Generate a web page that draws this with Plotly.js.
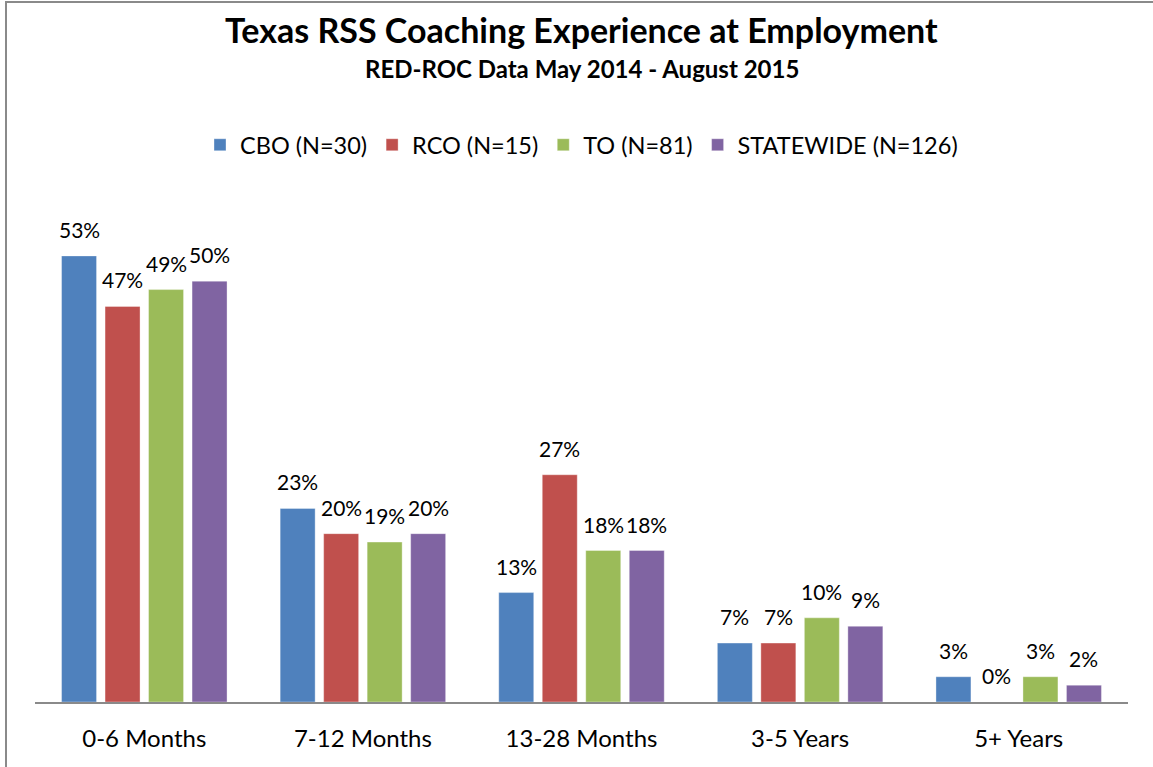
<!DOCTYPE html>
<html>
<head>
<meta charset="utf-8">
<script src="https://cdn.plot.ly/plotly-3.0.1.min.js"></script>
<style>
  html, body { margin: 0; padding: 0; background: #fff; }
  #wrap { position: relative; width: 1153px; height: 767px; overflow: hidden; }
  #chart { width: 1153px; height: 767px; }
  #frame { position: absolute; left: 5px; top: 1px; width: 2000px; height: 2000px;
           border-top: 2px solid #8a8a8a; border-left: 2px solid #8a8a8a; pointer-events: none; }
</style>
</head>
<body>
<div id="wrap"><div id="chart"></div><div id="frame"></div></div>
<script>
const categories = ["0-6 Months", "7-12 Months", "13-28 Months", "3-5 Years", "5+ Years"];
const seriesNames = ["CBO (N=30)", "RCO (N=15)", "TO (N=81)", "STATEWIDE (N=126)"];
const cbo = [53, 23, 13, 7, 3];
const rco = [47, 20, 27, 7, 0];
const to = [49, 19, 18, 10, 3];
const statewide = [50, 20, 18, 9, 2];
const colors = ["#4F81BD", "#C0504D", "#9BBB59", "#8064A2"];

const seriesValues = [cbo, rco, to, statewide];
const FONT = "Lato, 'Open Sans', sans-serif";

const barWidth = 0.16;
const slot = 0.199;
const xIdx = categories.map((c, i) => i);

const traces = [];
const annotations = [];
seriesValues.forEach((vals, s) => {
  const off = (s - 1.5) * slot - barWidth / 2;
  traces.push({
    type: "bar",
    name: seriesNames[s],
    x: xIdx,
    y: vals.map(v => v / 100),
    width: barWidth,
    offset: off,
    marker: { color: colors[s], line: { color: "rgba(255,255,255,0.35)", width: 1 } },
    hoverinfo: "skip"
  });
  vals.forEach((v, i) => {
    annotations.push({
      x: i + off + barWidth / 2, y: v / 100, xref: "x", yref: "y",
      text: v + "%", showarrow: false, yanchor: "bottom", xanchor: "center",
      yshift: 12, font: { family: FONT, size: 21, color: "#000" }
    });
  });
});

annotations.push({
  text: "<b>Texas RSS Coaching Experience at Employment</b>",
  xref: "paper", yref: "paper", x: 0.5, y: 1.3307, xanchor: "center", yanchor: "middle",
  showarrow: false, font: { family: FONT, size: 34, color: "#000" }
});
annotations.push({
  text: "<b>RED-ROC Data May 2014 - August 2015</b>",
  xref: "paper", yref: "paper", x: 0.5, y: 1.2535, xanchor: "center", yanchor: "middle",
  showarrow: false, font: { family: FONT, size: 24, color: "#000" }
});

const layout = {
  width: 1153, height: 767,
  margin: { l: 35, r: 25, t: 197, b: 65 },
  paper_bgcolor: "#fff", plot_bgcolor: "#fff",
  barmode: "overlay",
  showlegend: true,
  legend: {
    orientation: "h", x: 0.5, xanchor: "center", y: 1.103, yanchor: "middle",
    font: { family: FONT, size: 23.5, color: "#000" }, itemclick: false
  },
  xaxis: {
    range: [-0.5, 4.5], tickmode: "array", tickvals: xIdx, ticktext: categories,
    showline: true, linecolor: "#8a8a8a", linewidth: 2, ticks: "", showgrid: false,
    zeroline: false, ticklabelstandoff: 14,
    tickfont: { family: FONT, size: 24, color: "#000" }, fixedrange: true
  },
  yaxis: {
    range: [0, 0.6], visible: false, showgrid: false, zeroline: false, fixedrange: true
  },
  annotations: annotations
};

Plotly.newPlot("chart", traces, layout, { displayModeBar: false, staticPlot: true });
</script>
</body>
</html>
